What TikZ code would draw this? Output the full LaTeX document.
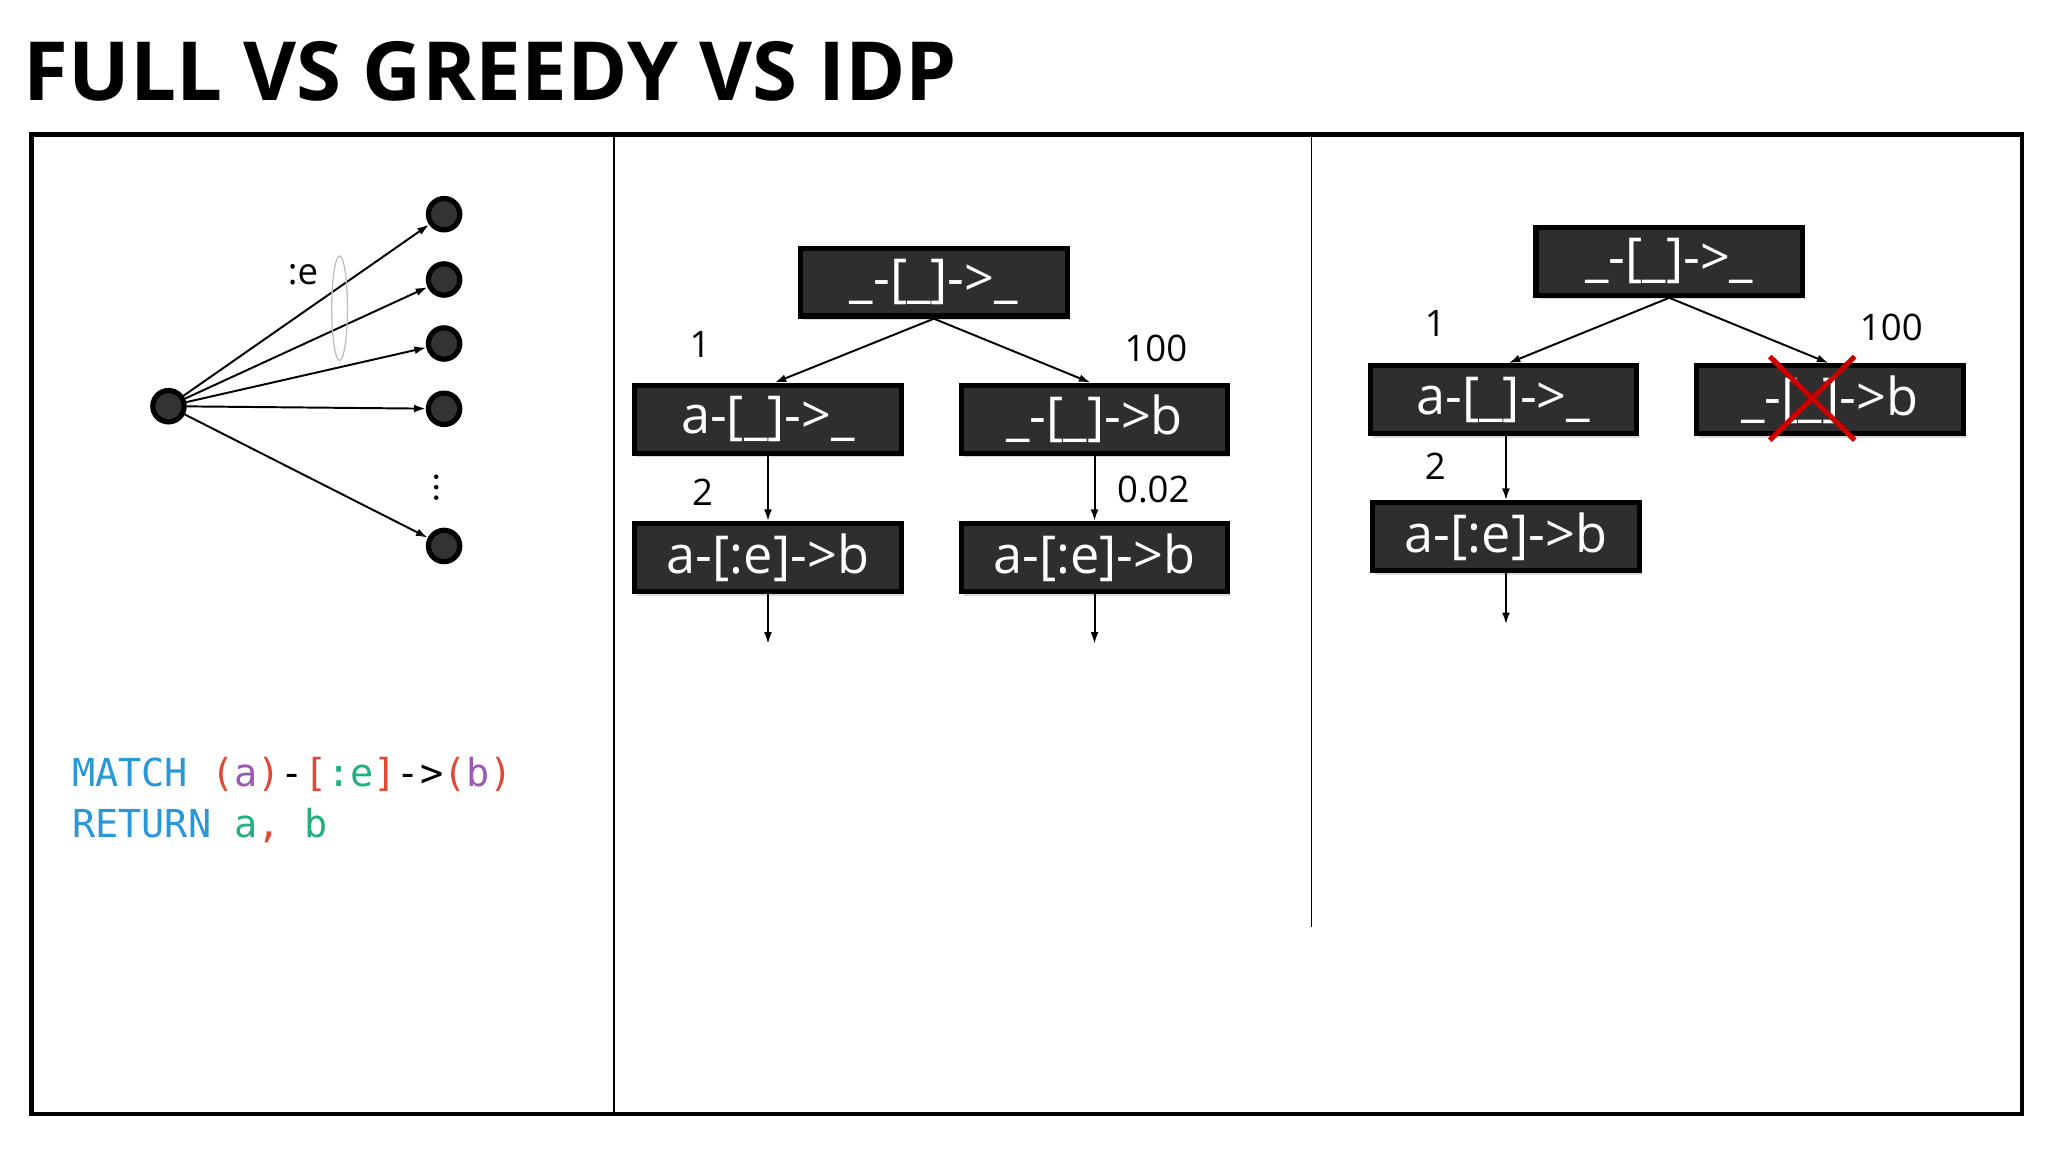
\documentclass[tikz,border=0pt]{standalone}
\usepackage{fontspec}
\setmainfont{Open Sans}
\newfontfamily\codefont{DejaVu Sans Mono}
\usetikzlibrary{arrows.meta,shadows}
\definecolor{kw}{HTML}{2A97D6}
\definecolor{par}{HTML}{E04A35}
\definecolor{vr}{HTML}{9B59B6}
\definecolor{gr}{HTML}{22B07D}
\tikzset{
  opbox/.style={draw=black,line width=4pt,fill=black!82,text=white,minimum width=204pt,minimum height=52pt,
    inner sep=0pt,font=\fontsize{40}{40}\selectfont,drop shadow={shadow xshift=2pt,shadow yshift=-3pt,opacity=0.3}},
  vtx/.style={circle,draw=black,line width=4pt,fill=black!80,minimum size=24pt,inner sep=0pt},
  edge/.style={-{Latex[length=9pt,width=6pt]},line width=1.5pt},
  lbl/.style={font=\fontsize{28}{28}\selectfont,inner sep=0pt},
  dotn/.style={circle,fill=black,minimum size=3.5pt,inner sep=0pt}
}
\begin{document}
\begin{tikzpicture}[x=1pt,y=-1pt]
\useasboundingbox (0,0) rectangle (1568,882);
\fill[white] (0,0) rectangle (1568,882);
\node[anchor=base west,inner sep=0pt,font=\fontsize{62.5}{62.5}\selectfont\bfseries] (title) at (18,77) {FULL VS GREEDY VS IDP};
\draw[line width=3.5pt] (24,103) rectangle (1548,853);
\draw[line width=1.2pt] (470,103) -- (470,853);
\draw[line width=1.2pt] (1004,103) -- (1004,710);
% left graph
\node[vtx] (c) at (129,311) {};
\foreach \i/\y in {1/164,2/214,3/263,4/313,5/418}{
  \node[vtx] (t\i) at (340,\y) {};
  \draw[edge] (c) -- (t\i);
}
\node[dotn] (d1) at (334,365) {};
\node[dotn] (d2) at (334,373) {};
\node[dotn] (d3) at (334,381) {};
\node[lbl] (elab) at (232,210) {:e};
\draw[black!25,line width=1pt] (260,236) ellipse (6 and 40);
\node[anchor=base west,inner sep=0pt,font=\codefont\fontsize{29.5}{29.5}\selectfont] (code1) at (55,602)
  {\textcolor{kw}{MATCH} \textcolor{par}{(}\textcolor{vr}{a}\textcolor{par}{)}-\textcolor{par}{[}\textcolor{gr}{:e}\textcolor{par}{]}->\textcolor{par}{(}\textcolor{vr}{b}\textcolor{par}{)}};
\node[anchor=base west,inner sep=0pt,font=\codefont\fontsize{29.5}{29.5}\selectfont] (code2) at (55,641)
  {\textcolor{kw}{RETURN} \textcolor{gr}{a}\textcolor{par}{,} \textcolor{gr}{b}};
% greedy
\node[opbox] (g0) at (715,216) {\_-[\_]->\_};
\node[opbox] (g1) at (588,321) {a-[\_]->\_};
\node[opbox] (g2) at (838,321) {\_-[\_]->b};
\node[opbox] (g3) at (588,427) {a-[:e]->b};
\node[opbox] (g4) at (838,427) {a-[:e]->b};
\coordinate (g3e) at (588,493);
\coordinate (g4e) at (838,493);
\draw[edge] (g0.south) -- (593,293);
\draw[edge] (g0.south) -- (835,293);
\draw[edge] (g1) -- (g3);
\draw[edge] (g2) -- (g4);
\draw[edge] (g3) -- (g3e);
\draw[edge] (g4) -- (g4e);
\node[lbl] (l1) at (536,264) {1};
\node[lbl] (l100) at (885,267) {100};
\node[lbl] (l2) at (538,377) {2};
\node[lbl] (l002) at (883,375) {0.02};
% idp
\node[opbox] (i0) at (1278,200) {\_-[\_]->\_};
\node[opbox] (i1) at (1151,306) {a-[\_]->\_};
\node[opbox] (i2) at (1401,306) {\_-[\_]->b};
\node[opbox] (i3) at (1153,411) {a-[:e]->b};
\coordinate (i3e) at (1153,478);
\draw[edge] (i0.south) -- (1155,278);
\draw[edge] (i0.south) -- (1400,278);
\draw[edge] (1153,334) -- (i3);
\draw[edge] (i3) -- (i3e);
\draw[red!80!black,line width=4pt] (1355,273) -- (1420,337) (1420,273) -- (1355,337);
\node[lbl] (m1) at (1099,248) {1};
\node[lbl] (m100) at (1448,251) {100};
\node[lbl] (m2) at (1099,357) {2};
\end{tikzpicture}
\end{document}
